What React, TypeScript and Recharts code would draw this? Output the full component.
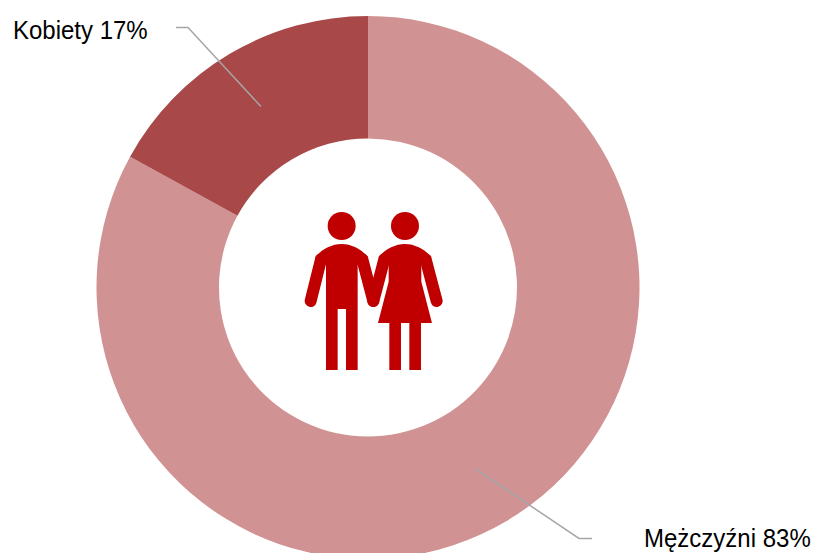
import React from 'react';
import { PieChart, Pie, Cell } from 'recharts';

const categories = ['Mężczyźni', 'Kobiety'];
const shares = [83, 17];
const sliceColors = ['#D09292', '#A84848'];

const chartData = categories.map((name, i) => ({ name, value: shares[i] }));

const RADIAN = Math.PI / 180;
const LEADER_COLOR = '#A6A6A6';
const ICON_COLOR = '#C00000';

// Leader line elbow, line end and text start, relative to the slice anchor
const leaders = [
  { elbow: [104, 70], end: [117, 70], text: [169, 79] },
  { elbow: [-73, -79], end: [-85, -79], text: [-248, -68] },
];

const renderLabel = (props: any) => {
  const { cx, cy, midAngle, innerRadius, outerRadius, index } = props;
  const r = (innerRadius + outerRadius) / 2;
  const ax = cx + r * Math.cos(-midAngle * RADIAN);
  const ay = cy + r * Math.sin(-midAngle * RADIAN);
  const l = leaders[index];
  const points = [
    [ax, ay],
    [ax + l.elbow[0], ay + l.elbow[1]],
    [ax + l.end[0], ay + l.end[1]],
  ]
    .map((p) => p.join(','))
    .join(' ');
  return (
    <g key={categories[index]}>
      <polyline points={points} fill="none" stroke={LEADER_COLOR} strokeWidth={1.5} />
      {/* reference type is slightly condensed */}
      <text
        transform={`translate(${ax + l.text[0]} ${ay + l.text[1]}) scale(0.96 1)`}
        fontFamily="'Liberation Sans', Arial, sans-serif"
        fontSize={25}
        fill="#000000"
      >
        {`${categories[index]} ${shares[index]}%`}
      </text>
    </g>
  );
};

// Couple pictogram in the donut hole
const CoupleIcon = () => (
  <g transform="translate(290 200) scale(0.3333)" fill={ICON_COLOR} stroke="none">
    <circle cx={155} cy={78} r={42} />
    <circle cx={345} cy={78} r={42} />
    <path d="M75 172 C95 148 125 132 155 132 C185 132 215 148 235 172 L203 195 L203 510 L168 510 L168 327 L143 327 L143 510 L108 510 L108 195 Z" />
    <path d="M265 172 C285 148 315 132 345 132 C375 132 405 148 425 172 L394 195 L394 245 L426 369 L393 369 L393 510 L358 510 L358 369 L333 369 L333 510 L298 510 L298 369 L264 369 L296 245 L296 195 Z" />
    <g stroke={ICON_COLOR} strokeWidth={36} strokeLinecap="round" fill="none">
      <line x1={93} y1={178} x2={62} y2={303} />
      <line x1={217} y1={178} x2={250} y2={303} />
      <line x1={283} y1={178} x2={250} y2={303} />
      <line x1={407} y1={178} x2={440} y2={303} />
    </g>
  </g>
);

export default function App() {
  return (
    <div style={{ position: 'absolute', left: 0, top: 0, width: 813, height: 553, overflow: 'hidden', background: '#ffffff' }}>
      <PieChart width={813} height={553} margin={{ top: 0, right: 0, bottom: 0, left: 0 }}>
        <Pie
          data={chartData}
          dataKey="value"
          nameKey="name"
          cx={368}
          cy={287.5}
          innerRadius={149}
          outerRadius={271.5}
          startAngle={90}
          endAngle={-270}
          stroke="none"
          label={renderLabel}
          labelLine={false}
          isAnimationActive={false}
        >
          {chartData.map((entry, i) => (
            <Cell key={entry.name} fill={sliceColors[i]} />
          ))}
        </Pie>
        <CoupleIcon />
      </PieChart>
    </div>
  );
}
